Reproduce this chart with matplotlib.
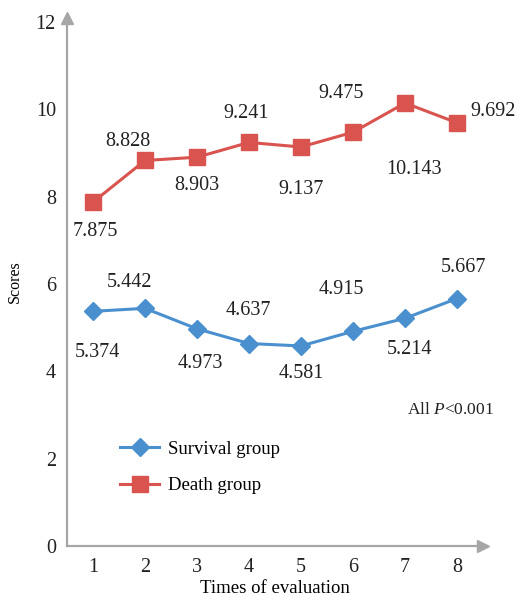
import numpy as np
import matplotlib.pyplot as plt

times = [1, 2, 3, 4, 5, 6, 7, 8]
survival = [5.374, 5.442, 4.973, 4.637, 4.581, 4.915, 5.214, 5.667]
death = [7.875, 8.828, 8.903, 9.241, 9.137, 9.475, 10.143, 9.692]
yticks = [0, 2, 4, 6, 8, 10, 12]

# label offsets in pixels (dx, dy) relative to each point
death_off = [(2, -29), (-17, 19), (0, -28), (-3, 29), (0, -43), (-12, 39), (9, -66), (36, 11)]
surv_off = [(4, -41), (-15, 26), (3, -35), (-1, 33), (0, -28), (-12, 42), (5, -31), (7, 31)]

plt.rcParams['font.family'] = ['Liberation Serif', 'DejaVu Serif']
plt.rcParams['mathtext.fontset'] = 'custom'
plt.rcParams['mathtext.rm'] = 'Liberation Serif'
plt.rcParams['mathtext.it'] = 'Liberation Serif:italic'

blue = '#4a90cf'
red = '#d9534f'
gray = '#a6a6a6'
txt = '#222222'

fig = plt.figure(figsize=(5.21, 5.96), dpi=100)
ax = fig.add_axes([67/521, 50/596, 416/521, 528/596])

ax.plot(times, survival, color=blue, lw=2.2, marker='D', ms=9, label='Survival group', zorder=3)
ax.plot(times, death, color=red, lw=2.2, marker='s', ms=11, label='Death group', zorder=3)

for x, y, (dx, dy) in zip(times, death, death_off):
    ax.annotate(f'{y:.3f}', (x, y), xytext=(dx, dy), textcoords='offset pixels',
                ha='center', va='center', fontsize=14.5, color=txt)
for x, y, (dx, dy) in zip(times, survival, surv_off):
    ax.annotate(f'{y:.3f}', (x, y), xytext=(dx, dy), textcoords='offset pixels',
                ha='center', va='center', fontsize=14.5, color=txt)

ax.set_xlim(0.5, 8.5)
ax.set_ylim(0, 528 / 43.67)
ax.set_xticks(times)
ax.set_yticks(yticks)
ax.tick_params(length=0, labelsize=14.5, colors=txt, pad=8)
ax.tick_params(axis='x', pad=9)

for s in ['top', 'right']:
    ax.spines[s].set_visible(False)
for s in ['left', 'bottom']:
    ax.spines[s].set_color(gray)
    ax.spines[s].set_linewidth(1.6)

# arrow heads at the axis ends
ax.plot(1, 0, '>', color=gray, ms=8, transform=ax.transAxes, clip_on=False)
ax.plot(0, 1, '^', color=gray, ms=8, transform=ax.transAxes, clip_on=False)

ax.set_xlabel('Times of evaluation', fontsize=13.5, labelpad=2)
ax.set_ylabel('Scores', fontsize=11.5, labelpad=9)

ax.text(8.72, 3.11, 'All $\\it{P}$<0.001', ha='right', va='center', fontsize=12.5, color=txt)

ax.legend(loc='center left', bbox_to_anchor=(0.127, 0.1487), frameon=False, fontsize=13.5,
          handlelength=2.1, labelspacing=1.05, handletextpad=0.45,
          borderpad=0, borderaxespad=0)

fig.savefig('out.png', dpi=100)
